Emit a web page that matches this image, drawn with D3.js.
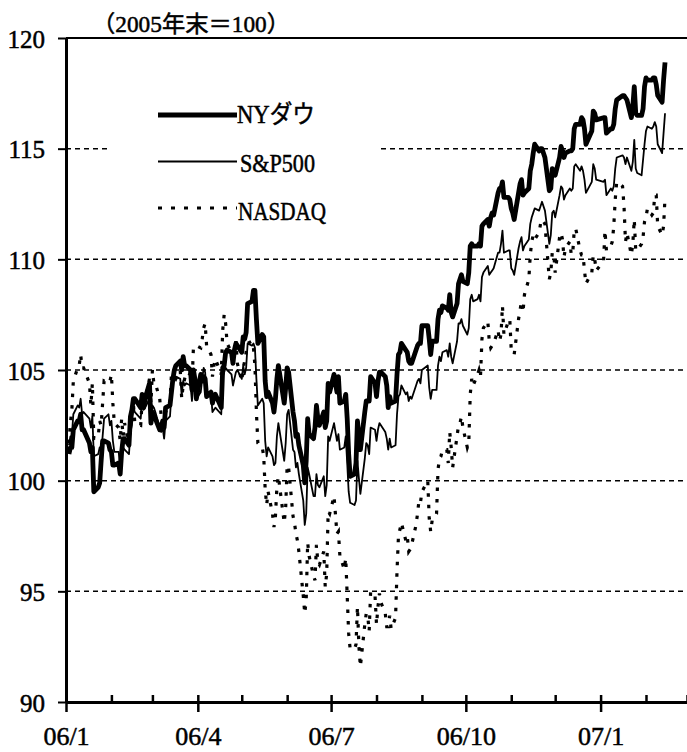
<!DOCTYPE html>
<html>
<head>
<meta charset="utf-8">
<script src="https://cdn.jsdelivr.net/npm/d3@7"></script>
<style>
  html, body { margin: 0; padding: 0; background: #fff; }
  svg { display: block; }
  text { font-family: "Liberation Serif", "Noto Sans CJK JP", serif; fill: #000; stroke: #000; stroke-width: 0.5px; }
</style>
</head>
<body>
<svg id="chart" width="687" height="752"></svg>
<script>
// Trading days, Jan 2006 – mid Feb 2007
const tradingDays = [
  "2006-01-03","2006-01-04","2006-01-05","2006-01-06","2006-01-09","2006-01-10","2006-01-11","2006-01-12","2006-01-13","2006-01-17","2006-01-18","2006-01-19","2006-01-20","2006-01-23","2006-01-24","2006-01-25","2006-01-26","2006-01-27","2006-01-30","2006-01-31",
  "2006-02-01","2006-02-02","2006-02-03","2006-02-06","2006-02-07","2006-02-08","2006-02-09","2006-02-10","2006-02-13","2006-02-14","2006-02-15","2006-02-16","2006-02-17","2006-02-21","2006-02-22","2006-02-23","2006-02-24","2006-02-27","2006-02-28",
  "2006-03-01","2006-03-02","2006-03-03","2006-03-06","2006-03-07","2006-03-08","2006-03-09","2006-03-10","2006-03-13","2006-03-14","2006-03-15","2006-03-16","2006-03-17","2006-03-20","2006-03-21","2006-03-22","2006-03-23","2006-03-24","2006-03-27","2006-03-28","2006-03-29","2006-03-30","2006-03-31",
  "2006-04-03","2006-04-04","2006-04-05","2006-04-06","2006-04-07","2006-04-10","2006-04-11","2006-04-12","2006-04-13","2006-04-17","2006-04-18","2006-04-19","2006-04-20","2006-04-21","2006-04-24","2006-04-25","2006-04-26","2006-04-27","2006-04-28",
  "2006-05-01","2006-05-02","2006-05-03","2006-05-04","2006-05-05","2006-05-08","2006-05-09","2006-05-10","2006-05-11","2006-05-12","2006-05-15","2006-05-16","2006-05-17","2006-05-18","2006-05-19","2006-05-22","2006-05-23","2006-05-24","2006-05-25","2006-05-26","2006-05-30","2006-05-31",
  "2006-06-01","2006-06-02","2006-06-05","2006-06-06","2006-06-07","2006-06-08","2006-06-09","2006-06-12","2006-06-13","2006-06-14","2006-06-15","2006-06-16","2006-06-19","2006-06-20","2006-06-21","2006-06-22","2006-06-23","2006-06-26","2006-06-27","2006-06-28","2006-06-29","2006-06-30",
  "2006-07-03","2006-07-05","2006-07-06","2006-07-07","2006-07-10","2006-07-11","2006-07-12","2006-07-13","2006-07-14","2006-07-17","2006-07-18","2006-07-19","2006-07-20","2006-07-21","2006-07-24","2006-07-25","2006-07-26","2006-07-27","2006-07-28","2006-07-31",
  "2006-08-01","2006-08-02","2006-08-03","2006-08-04","2006-08-07","2006-08-08","2006-08-09","2006-08-10","2006-08-11","2006-08-14","2006-08-15","2006-08-16","2006-08-17","2006-08-18","2006-08-21","2006-08-22","2006-08-23","2006-08-24","2006-08-25","2006-08-28","2006-08-29","2006-08-30","2006-08-31",
  "2006-09-01","2006-09-05","2006-09-06","2006-09-07","2006-09-08","2006-09-11","2006-09-12","2006-09-13","2006-09-14","2006-09-15","2006-09-18","2006-09-19","2006-09-20","2006-09-21","2006-09-22","2006-09-25","2006-09-26","2006-09-27","2006-09-28","2006-09-29",
  "2006-10-02","2006-10-03","2006-10-04","2006-10-05","2006-10-06","2006-10-09","2006-10-10","2006-10-11","2006-10-12","2006-10-13","2006-10-16","2006-10-17","2006-10-18","2006-10-19","2006-10-20","2006-10-23","2006-10-24","2006-10-25","2006-10-26","2006-10-27","2006-10-30","2006-10-31",
  "2006-11-01","2006-11-02","2006-11-03","2006-11-06","2006-11-07","2006-11-08","2006-11-09","2006-11-10","2006-11-13","2006-11-14","2006-11-15","2006-11-16","2006-11-17","2006-11-20","2006-11-21","2006-11-22","2006-11-24","2006-11-27","2006-11-28","2006-11-29","2006-11-30",
  "2006-12-01","2006-12-04","2006-12-05","2006-12-06","2006-12-07","2006-12-08","2006-12-11","2006-12-12","2006-12-13","2006-12-14","2006-12-15","2006-12-18","2006-12-19","2006-12-20","2006-12-21","2006-12-22","2006-12-26","2006-12-27","2006-12-28","2006-12-29",
  "2007-01-03","2007-01-04","2007-01-05","2007-01-08","2007-01-09","2007-01-10","2007-01-11","2007-01-12","2007-01-16","2007-01-17","2007-01-18","2007-01-19","2007-01-22","2007-01-23","2007-01-24","2007-01-25","2007-01-26","2007-01-29","2007-01-30","2007-01-31",
  "2007-02-01","2007-02-02","2007-02-05","2007-02-06","2007-02-07","2007-02-08","2007-02-09","2007-02-12","2007-02-13","2007-02-14"
];

// Index levels, end of 2005 = 100 (one row per month)
const nyDow = [
  101.2,101.5,101.5,102.3,102.7,102.7,103.0,102.3,102.3,101.7,101.3,101.5,99.5,99.7,99.9,100.9,101.8,101.8,101.7,101.4,
  101.3,100.7,100.7,100.8,100.3,101.3,101.9,101.9,101.6,102.9,103.2,103.7,103.7,103.3,103.9,103.3,103.7,104.4,102.6,
  103.1,102.9,102.8,102.3,102.4,102.7,102.4,103.3,103.4,104.0,104.6,105.0,105.2,105.4,105.0,105.6,105.2,105.2,105.0,104.1,105.0,104.6,103.7,
  104.8,104.5,104.7,104.6,103.8,104.0,103.5,103.8,103.9,103.3,105.1,105.2,105.8,105.9,105.8,105.3,105.9,106.2,106.1,
  105.8,106.5,106.4,106.7,108.0,108.1,108.6,108.6,107.3,106.2,106.6,106.5,104.5,103.8,104.0,103.5,103.1,103.7,104.6,105.2,103.5,104.2,
  105.1,104.9,103.1,102.7,102.0,102.1,101.6,100.7,99.9,100.9,102.8,102.1,101.9,102.4,103.4,102.8,102.5,103.1,102.4,102.7,104.4,104.0,
  104.8,104.0,104.7,103.5,103.6,103.9,102.8,101.2,100.2,100.3,100.8,102.7,102.0,101.4,103.1,103.6,103.6,103.6,104.7,104.4,
  103.8,104.5,104.9,104.9,104.7,104.3,103.3,103.8,103.5,103.6,104.8,105.7,105.8,106.2,105.9,105.8,105.4,105.3,105.3,105.9,106.1,106.2,106.2,
  107.0,107.0,106.4,105.7,106.3,106.3,107.3,107.7,107.6,107.9,107.8,107.7,108.4,107.6,107.4,108.0,108.9,109.1,109.3,109.0,
  108.9,109.4,110.6,110.7,110.6,110.6,110.7,110.6,111.5,111.6,111.8,111.5,111.9,112.1,112.0,113.0,113.2,113.2,113.5,112.8,112.8,112.7,
  112.3,112.1,111.8,113.0,113.4,113.6,112.9,113.0,113.2,114.0,114.3,114.8,115.2,114.9,115.0,115.0,114.6,113.1,113.2,114.1,114.0,
  113.8,114.6,115.1,114.9,114.6,114.8,114.9,114.9,115.0,115.9,116.1,116.1,116.4,116.3,115.9,115.2,115.8,116.7,116.6,116.3,
  116.4,116.4,115.7,115.9,115.9,116.1,116.8,117.2,117.4,117.4,117.3,117.2,116.4,116.9,117.8,116.6,116.5,116.5,116.8,117.8,
  118.2,118.1,118.1,118.2,118.2,117.9,117.4,117.1,118.1,118.9
];

const sp500 = [
  101.6,102.0,102.0,103.0,103.4,103.3,103.7,103.0,103.1,102.8,102.4,102.9,101.1,101.2,101.5,101.3,102.0,102.8,103.0,102.5,
  102.7,101.8,101.3,101.3,100.5,101.4,101.5,101.4,101.2,102.2,102.5,103.3,103.1,102.8,103.6,103.2,103.3,103.7,102.6,
  103.4,103.3,103.1,102.4,102.2,102.4,101.9,102.7,102.9,103.9,104.4,104.6,104.7,104.6,103.9,104.5,104.3,104.4,104.3,103.6,104.4,104.2,103.7,
  104.0,104.6,105.1,104.9,103.8,103.9,103.1,103.2,103.3,103.0,104.7,104.9,105.1,105.0,104.8,104.3,104.6,104.9,105.0,
  104.6,105.2,104.8,105.1,106.2,106.1,106.2,106.0,104.6,103.4,103.7,103.5,101.8,101.1,101.5,101.1,100.7,100.8,102.0,102.6,100.9,101.7,
  103.0,103.2,101.4,101.3,100.6,100.8,100.3,99.1,98.0,98.5,100.6,100.3,99.3,99.3,100.3,99.8,99.7,100.2,99.3,99.8,102.0,101.8,
  102.6,101.8,102.1,101.4,101.5,102.0,100.8,99.5,99.0,98.9,99.1,100.9,100.1,99.4,101.0,101.7,101.6,101.2,102.4,102.3,
  101.8,102.3,102.6,102.5,102.2,101.9,101.4,101.9,101.5,101.6,103.0,103.8,103.9,104.3,103.9,104.0,103.6,103.8,103.7,104.3,104.5,104.6,104.4,
  105.0,105.2,104.2,103.7,104.1,104.1,105.2,105.6,105.4,105.8,105.9,105.6,106.2,105.6,105.3,106.3,107.1,107.1,107.3,107.0,
  106.6,106.9,108.2,108.4,108.1,108.2,108.4,108.1,109.2,109.4,109.7,109.3,109.4,109.5,109.6,110.3,110.3,110.7,111.3,110.3,110.4,110.4,
  109.6,109.5,109.3,110.5,110.8,111.0,110.4,110.6,110.9,111.6,111.9,112.1,112.3,112.2,112.4,112.6,112.2,110.7,111.1,112.1,112.2,
  111.9,112.9,113.3,113.2,112.7,112.9,113.2,113.1,113.2,114.2,114.3,114.0,114.2,114.0,113.6,113.0,113.5,114.3,114.1,113.6,
  113.5,113.6,112.9,113.2,113.1,113.3,114.1,114.6,114.7,114.6,114.3,114.6,114.0,114.4,115.4,114.1,113.9,113.8,114.5,115.2,
  115.8,116.0,115.9,116.0,116.2,116.0,115.2,114.8,115.7,116.6
];

const nasdaq = [
  101.7,102.6,103.2,104.5,105.1,105.2,105.7,105.1,105.1,104.4,103.4,104.4,101.9,102.0,102.7,102.5,103.5,104.5,104.4,104.5,
  104.8,103.5,102.6,102.4,101.8,102.8,102.0,102.6,101.6,102.6,103.2,103.5,102.6,102.5,103.6,103.3,103.7,104.6,103.5,
  105.0,104.4,104.4,103.7,102.9,102.8,102.6,103.1,103.6,104.8,104.8,104.7,104.6,105.0,103.7,104.3,104.6,104.9,104.8,104.3,106.0,106.1,106.1,
  106.0,106.4,106.9,107.1,106.1,105.7,104.7,105.2,105.5,104.8,106.8,107.5,107.1,106.2,105.8,105.7,105.8,106.3,105.3,
  104.5,105.1,105.4,105.8,106.2,106.3,106.0,105.2,103.1,101.7,101.5,101.1,99.6,98.9,99.5,98.5,97.9,98.4,99.7,100.2,98.1,98.8,
  100.7,100.6,98.4,98.1,97.6,97.3,96.8,94.8,94.0,94.6,97.2,96.6,95.7,95.5,97.1,96.3,96.2,96.8,95.2,95.8,98.6,98.5,
  99.3,97.6,97.7,96.6,96.0,96.5,94.8,93.1,92.4,92.4,92.6,94.3,92.5,91.6,93.5,94.0,93.9,93.2,95.0,94.8,
  93.5,94.3,94.9,94.5,94.0,93.4,93.4,93.9,93.3,93.8,95.9,97.5,97.8,98.1,97.3,97.5,96.8,96.9,97.1,98.0,98.5,99.1,99.0,
  99.5,100.0,98.3,97.7,98.2,98.5,100.5,101.0,101.1,101.4,101.4,100.8,102.2,101.5,100.6,102.0,102.5,102.6,102.9,102.4,
  101.5,101.7,103.9,104.6,104.3,104.8,105.0,104.7,106.4,106.9,107.2,106.3,106.0,106.1,106.2,106.8,106.3,106.6,107.9,106.6,107.2,107.3,
  105.9,105.8,105.7,107.3,107.7,108.1,107.6,108.4,109.1,110.2,110.8,111.1,110.9,111.2,111.6,111.8,111.6,109.1,109.4,110.3,110.3,
  109.4,111.0,111.2,110.9,110.1,110.5,110.8,110.2,110.3,111.3,111.4,110.4,110.2,110.2,109.5,108.9,109.4,110.2,110.0,109.5,
  109.9,111.3,110.4,110.6,110.8,111.5,112.7,113.5,113.3,112.4,110.8,111.2,110.2,110.7,111.8,110.4,110.4,110.7,111.0,111.7,
  111.9,112.3,112.0,112.1,112.9,112.9,111.5,111.1,111.5,112.8
];

const seriesNames = ["NYダウ", "S&P500", "NASDAQ"];
const yTickValues = [90, 95, 100, 105, 110, 115, 120];
const gridValues = [95, 100, 105, 110, 115];
const xTickDates = ["2006-01-01", "2006-04-01", "2006-07-01", "2006-10-01", "2007-01-01"];
const xTickLabels = ["06/1", "06/4", "06/7", "06/10", "07/1"];
const unitLabel = "（2005年末＝100）";

const parseDay = d3.timeParse("%Y-%m-%d");
const days = tradingDays.map(parseDay);

const svg = d3.select("#chart");
svg.append("rect").attr("width", 687).attr("height", 752).attr("fill", "#fff");

const x = d3.scaleTime()
  .domain([new Date(2006, 0, 1), new Date(2007, 2, 1)])
  .range([66, 687]);
const y = d3.scaleLinear().domain([90, 120]).range([702, 38]);

// dashed horizontal grid
svg.append("g").selectAll("line").data(gridValues).join("line")
  .attr("x1", 66).attr("x2", 687)
  .attr("y1", d => y(d)).attr("y2", d => y(d))
  .attr("stroke", "#000").attr("stroke-width", 1.5)
  .attr("stroke-dasharray", "5,4");

// top frame line
svg.append("line")
  .attr("x1", 66).attr("x2", 687).attr("y1", y(120)).attr("y2", y(120))
  .attr("stroke", "#000").attr("stroke-width", 2);

// white panel behind the legend
svg.append("rect")
  .attr("x", 108).attr("y", 88).attr("width", 272).attr("height", 140)
  .attr("fill", "#fff");

// series lines
const series = [
  { name: seriesNames[2], values: nasdaq, width: 3.2, dash: "3.5,8", join: "miter" },
  { name: seriesNames[1], values: sp500, width: 1.8, dash: null, join: "round" },
  { name: seriesNames[0], values: nyDow, width: 4.8, dash: null, join: "round" }
];
const line = d3.line()
  .defined(d => d[1] != null)
  .x(d => x(d[0]))
  .y(d => y(d[1]));

series.forEach(s => {
  svg.append("path")
    .datum(days.map((d, i) => [d, s.values[i]]))
    .attr("fill", "none")
    .attr("stroke", "#000")
    .attr("stroke-width", s.width)
    .attr("stroke-linejoin", s.join)
    .attr("stroke-dasharray", s.dash)
    .attr("d", line);
});

// y axis
svg.append("g")
  .attr("transform", "translate(66,0)")
  .call(d3.axisLeft(y).tickValues(yTickValues).tickSize(8).tickSizeOuter(0).tickPadding(13))
  .call(g => {
    g.attr("font-family", null).attr("font-size", 25);
    g.select(".domain").attr("stroke-width", 3);
    g.selectAll(".tick line").attr("stroke-width", 2);
    g.selectAll(".tick text").attr("dy", "0.36em");
  });

// monthly ticks rising from the x axis
svg.append("g")
  .attr("transform", "translate(0,702)")
  .call(d3.axisTop(x).tickValues(d3.timeMonths(new Date(2006, 0, 1), new Date(2007, 2, 2)))
    .tickSize(7).tickSizeOuter(0).tickFormat(""))
  .call(g => {
    g.select(".domain").remove();
    g.selectAll(".tick line").attr("stroke-width", 2.5);
  });

// x axis with quarter labels
svg.append("g")
  .attr("transform", "translate(0,702)")
  .call(d3.axisBottom(x).tickValues(xTickDates.map(parseDay))
    .tickSize(10).tickSizeOuter(0).tickPadding(15)
    .tickFormat((d, i) => xTickLabels[i]))
  .call(g => {
    g.attr("font-family", null).attr("font-size", 26);
    g.select(".domain").attr("stroke-width", 3);
    g.selectAll(".tick line").attr("stroke-width", 2.5);
  });

// unit label
svg.append("text")
  .attr("x", 92).attr("y", 32)
  .attr("font-size", 23)
  .attr("textLength", 198).attr("lengthAdjust", "spacingAndGlyphs")
  .text(unitLabel);

// legend
const legendRows = [
  { name: seriesNames[0], y: 115, width: 4.8, dash: null, tx: 237, ty: 123, len: 78 },
  { name: seriesNames[1], y: 161.5, width: 1.8, dash: null, tx: 240, ty: 172, len: 75 },
  { name: seriesNames[2], y: 208, width: 3.2, dash: "4,9", tx: 238, ty: 220, len: 88 }
];
const legend = svg.append("g");
legendRows.forEach(r => {
  legend.append("line")
    .attr("x1", 158).attr("x2", 237).attr("y1", r.y).attr("y2", r.y)
    .attr("stroke", "#000").attr("stroke-width", r.width)
    .attr("stroke-dasharray", r.dash);
  legend.append("text")
    .attr("x", r.tx).attr("y", r.ty)
    .attr("font-size", 25)
    .attr("textLength", r.len).attr("lengthAdjust", "spacingAndGlyphs")
    .text(r.name);
});
</script>
</body>
</html>
